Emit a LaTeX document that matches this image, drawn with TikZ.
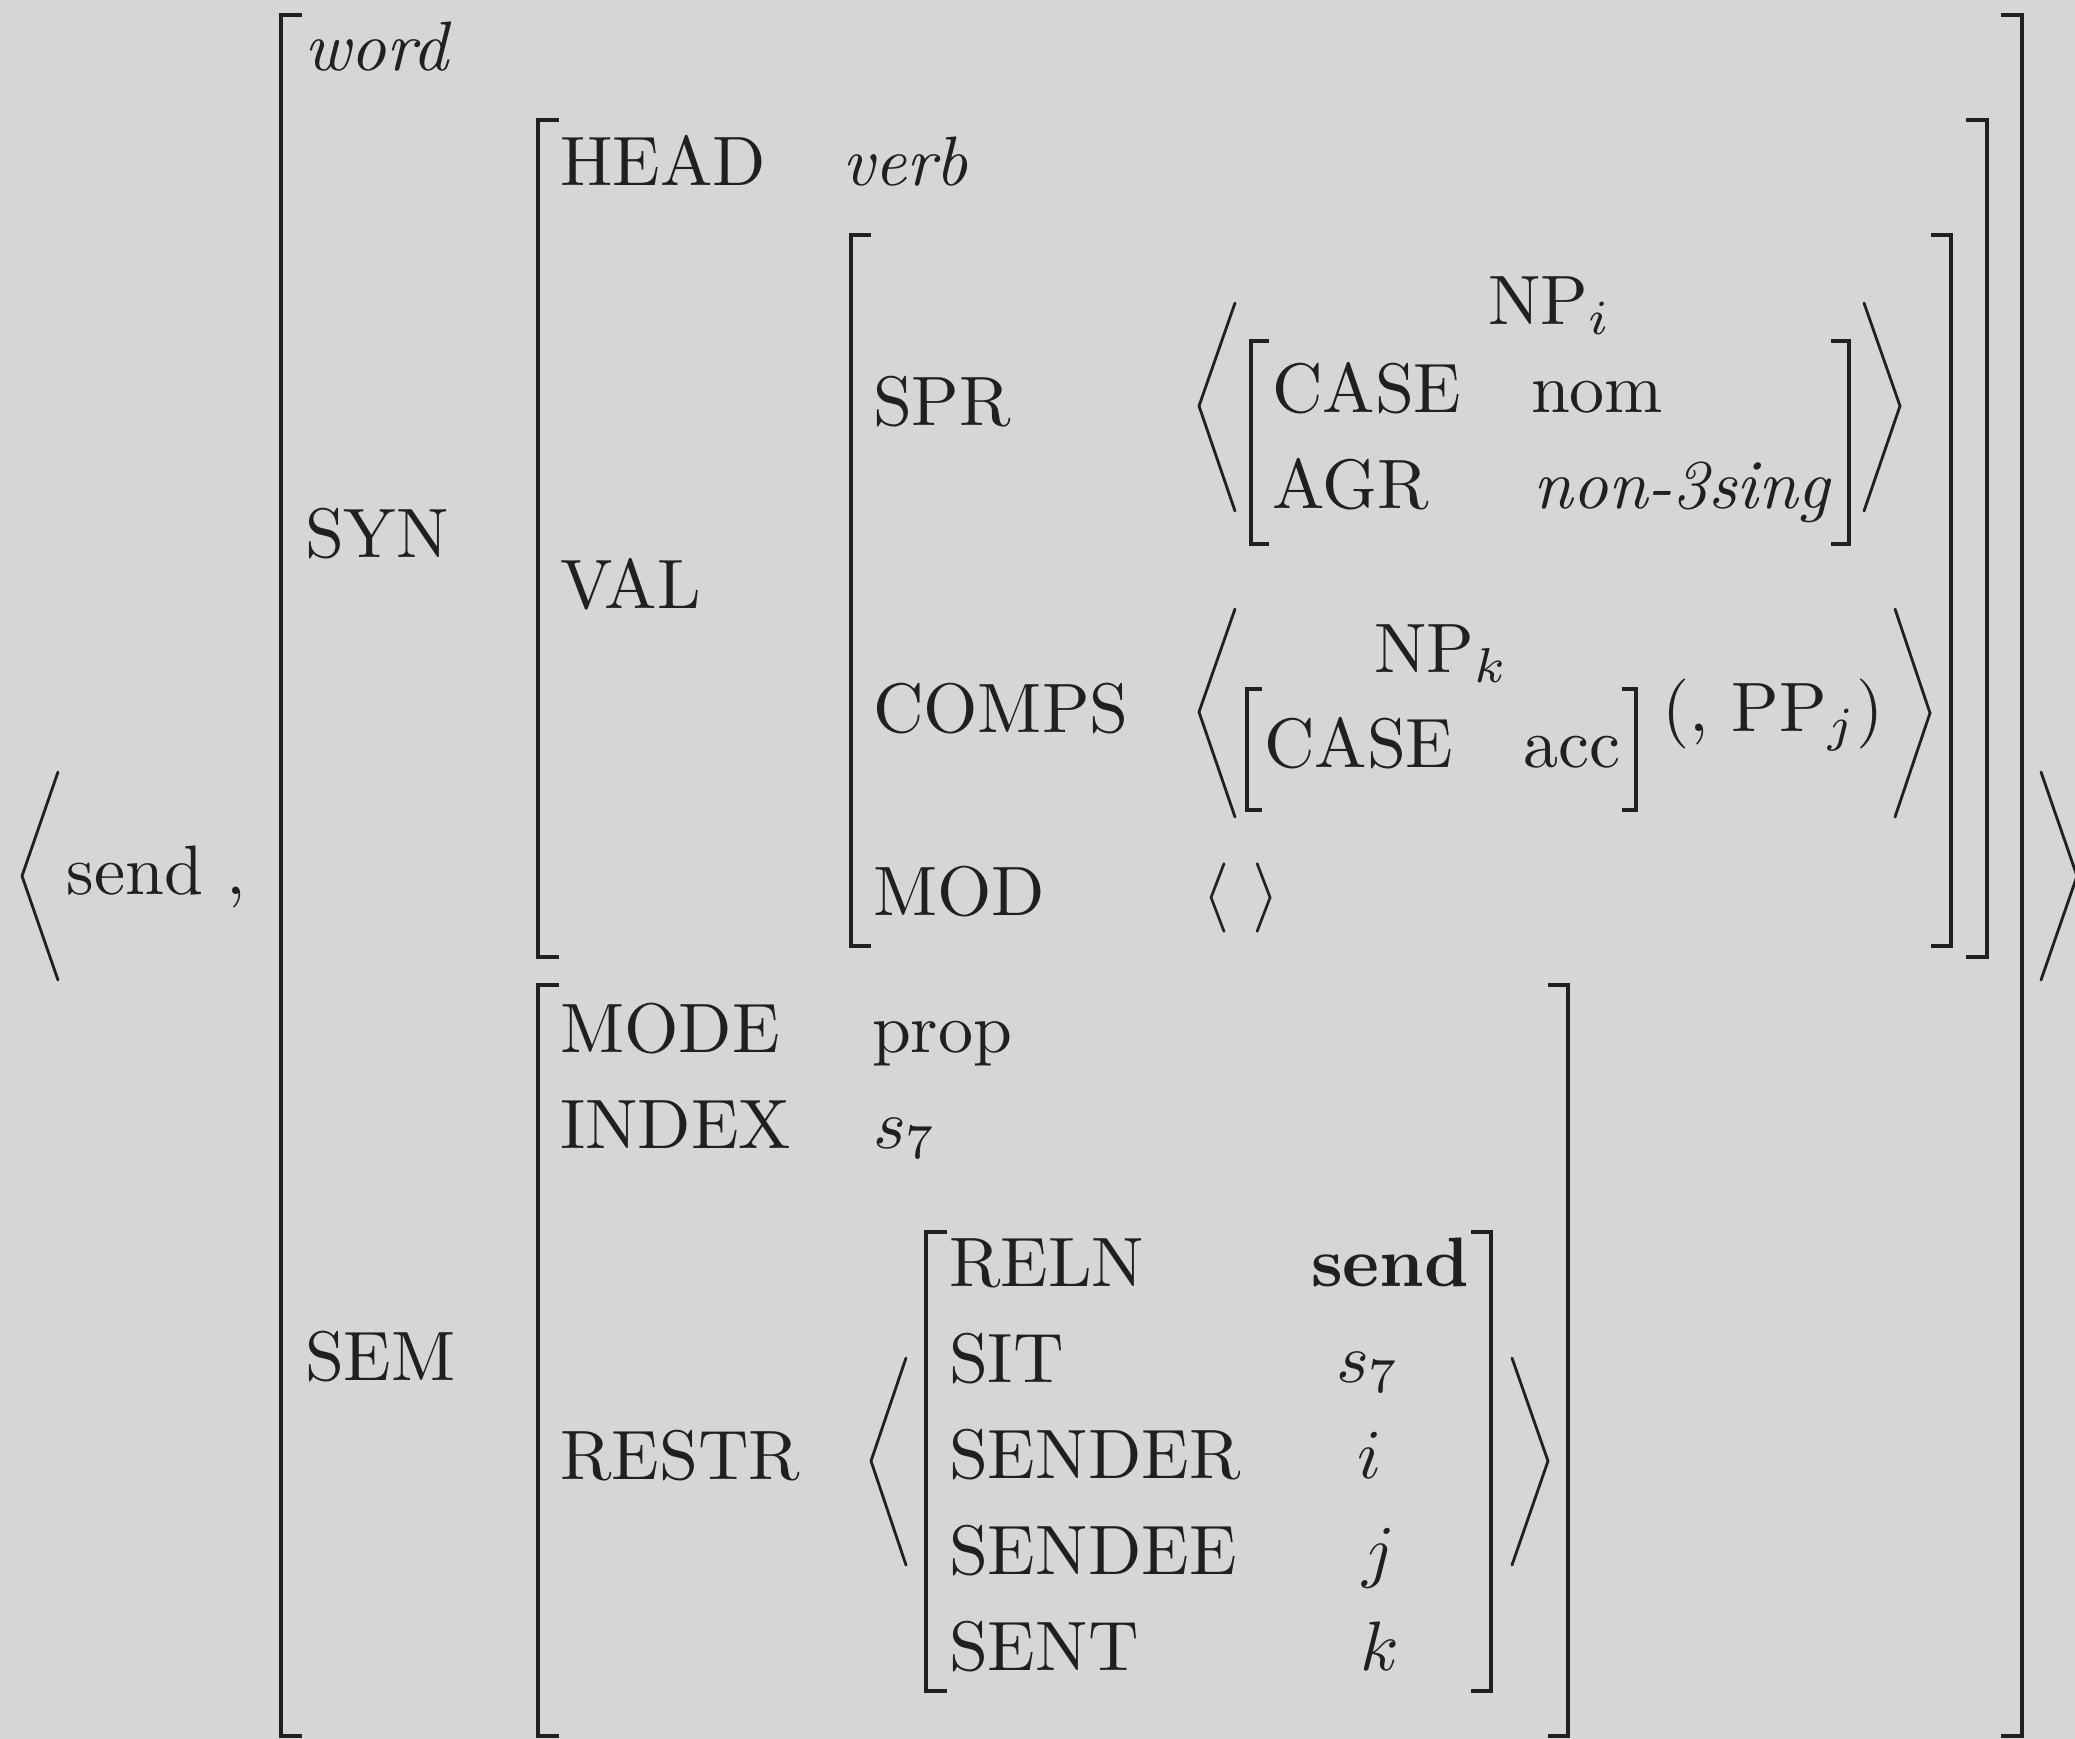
\documentclass[tikz,border=0pt]{standalone}
\usepackage{graphicx}
\definecolor{bg}{RGB}{214,214,214}
\definecolor{ink}{RGB}{34,31,32}
\newcommand\zz[1]{\scalebox{1.99}{#1}}
\tikzset{
  lbl/.style={anchor=base west, inner sep=0pt, outer sep=0pt, text=ink, font=\fontsize{10}{12}\selectfont},
  brk/.style={draw=ink, line width=1.0pt, line join=miter, line cap=butt},
  ang/.style={draw=ink, line width=0.8pt, line join=miter, line cap=round},
}
\begin{document}
\begin{tikzpicture}[x=0.01cm, y=-0.01cm]
\useasboundingbox (0,0) rectangle (2075,1739);
\fill[bg] (0,0) rectangle (2075,1739);

% ---------- brackets ----------
% outermost word matrix
\draw[brk] (302,15) -- (281,15) -- (281,1736) -- (302,1736);
\draw[brk] (2001,15) -- (2022,15) -- (2022,1736) -- (2001,1736);
% SYN matrix
\draw[brk] (559,120) -- (538,120) -- (538,957) -- (559,957);
\draw[brk] (1966,120) -- (1987,120) -- (1987,957) -- (1966,957);
% VAL matrix
\draw[brk] (871,235) -- (851,235) -- (851,946) -- (871,946);
\draw[brk] (1931,235) -- (1951,235) -- (1951,946) -- (1931,946);
% SPR element
\draw[brk] (1269,341) -- (1251,341) -- (1251,544) -- (1269,544);
\draw[brk] (1831,341) -- (1849,341) -- (1849,544) -- (1831,544);
% COMPS element
\draw[brk] (1262,689) -- (1247,689) -- (1247,810) -- (1262,810);
\draw[brk] (1622,689) -- (1636,689) -- (1636,810) -- (1622,810);
% SEM matrix
\draw[brk] (559,985) -- (538,985) -- (538,1736) -- (559,1736);
\draw[brk] (1548,985) -- (1568,985) -- (1568,1736) -- (1548,1736);
% RESTR element
\draw[brk] (947,1232) -- (926,1232) -- (926,1691) -- (947,1691);
\draw[brk] (1471,1232) -- (1491,1232) -- (1491,1691) -- (1471,1691);

% ---------- angle brackets ----------
\draw[ang] (58,772) -- (22,876) -- (58,980);
\draw[ang] (2041,772) -- (2077,876) -- (2041,980);
\draw[ang] (1235,303) -- (1199,406) -- (1235,511);
\draw[ang] (1864,303) -- (1900,406) -- (1864,511);
\draw[ang] (1235,609) -- (1199,712) -- (1235,817);
\draw[ang] (1895,609) -- (1930,713) -- (1895,817);
\draw[ang] (906,1358) -- (871,1461) -- (906,1565);
\draw[ang] (1512,1358) -- (1548,1461) -- (1512,1565);

% ---------- text ----------
\node[lbl] (send) at (67,894) {\zz{send ,}};
\node[lbl] (word) at (304,70) {\zz{\textit{word}}};
\node[lbl] (syn) at (305,557) {\zz{SYN}};
\node[lbl] (sem) at (305,1380) {\zz{SEM}};
\node[lbl] (head) at (560,185) {\zz{HEAD}};
\node[lbl] (verb) at (842,185) {\zz{\textit{verb}}};
\node[lbl] (val) at (560,608) {\zz{VAL}};
\node[lbl] (spr) at (873,425) {\zz{SPR}};
\node[lbl] (comps) at (873,732) {\zz{COMPS}};
\node[lbl] (mod) at (873,915) {\zz{MOD}};
\node[lbl] (npi) at (1488,324) {\zz{NP$_i$}};
\node[lbl] (case1) at (1272,412) {\zz{CASE}};
\node[lbl] (nom) at (1531,412) {\zz{nom}};
\node[lbl] (agr) at (1272,508) {\zz{AGR}};
\node[lbl] (non3) at (1533,508) {\zz{\textit{non-3sing}}};
\node[lbl] (npk) at (1374,672) {\zz{NP$_k$}};
\node[lbl] (case2) at (1264,767) {\zz{CASE}};
\node[lbl] (acc) at (1523,767) {\zz{acc}};
\node[lbl] (ppj) at (1662,731) {\zz{(, PP$_j$)}};
\node[lbl] (modval) at (1202,915) {\zz{$\langle\ \rangle$}};
\node[lbl] (mode) at (560,1052) {\zz{MODE}};
\node[lbl] (prop) at (872,1052) {\zz{prop}};
\node[lbl] (index) at (560,1148) {\zz{INDEX}};
\node[lbl] (sseven) at (873,1148) {\zz{$s_7$}};
\node[lbl] (restr) at (560,1479) {\zz{RESTR}};
\node[lbl] (reln) at (949,1286) {\zz{RELN}};
\node[lbl] (sendb) at (1311,1286) {\zz{\textbf{send}}};
\node[lbl] (sit) at (949,1382) {\zz{SIT}};
\node[lbl] (sitv) at (1336,1382) {\zz{$s_7$}};
\node[lbl] (sender) at (949,1478) {\zz{SENDER}};
\node[lbl] (senderv) at (1357,1478) {\zz{$i$}};
\node[lbl] (sendee) at (949,1574) {\zz{SENDEE}};
\node[lbl] (sendeev) at (1362,1574) {\zz{$j$}};
\node[lbl] (sent) at (949,1670) {\zz{SENT}};
\node[lbl] (sentv) at (1360,1670) {\zz{$k$}};
\end{tikzpicture}
\end{document}
